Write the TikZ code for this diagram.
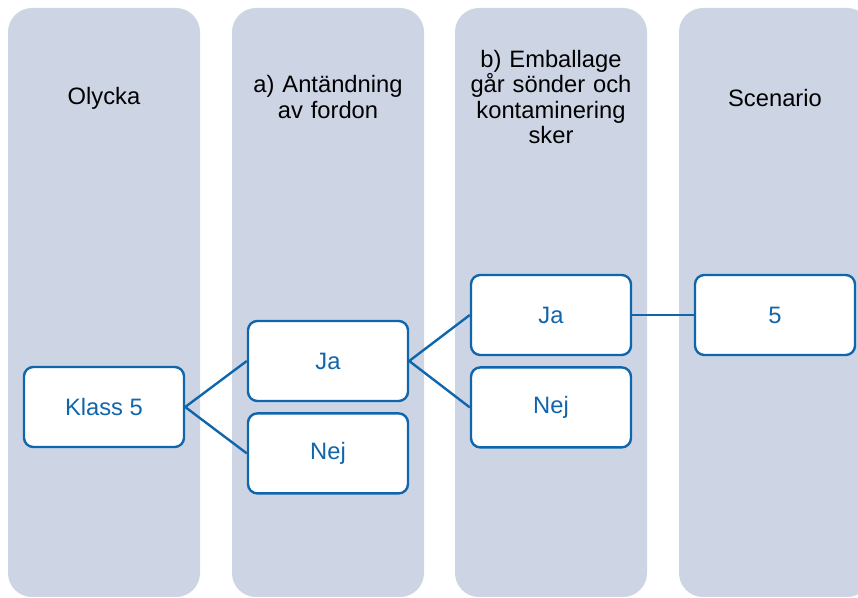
\documentclass[tikz,border=0pt]{standalone}
\usepackage{fontspec}
\setmainfont{Liberation Sans}
\usetikzlibrary{positioning}

\definecolor{colbg}{HTML}{CDD5E5}
\definecolor{boxblue}{HTML}{1066AC}

\begin{document}
\begin{tikzpicture}[x=0.75pt, y=-0.75pt, node distance={7.5pt},
  col/.style = {fill=colbg, draw=none, rounded corners=18pt},
  head/.style = {align=center, text width=150pt, font=\fontsize{17.8}{18.8}\selectfont},
  main/.style = {draw=boxblue, line width=1.8pt, fill=white, rounded corners=7pt,
    minimum width=120pt, minimum height=60pt, text=boxblue,
    font=\fontsize{17.8}{19}\selectfont},
  link/.style = {boxblue, line width=1.8pt}]
		\clip (0,0) rectangle (858,598);
		% columns
		\foreach \x in {8,232,455,679}
			\path[col] (\x,8) rectangle ++(192,589);
		% headings
		\node[head] (h1) at (104,98) {Olycka};
		\node[head] (h2) at (328,97) {a) Antändning\\av fordon};
		\node[head] (h3) at (551,97) {b) Emballage\\går sönder och\\kontaminering\\sker};
		\node[head] (h4) at (775,98) {Scenario};
		% boxes
		\node[main] (klass) at (104,407) {Klass 5};
		\node[main] (aja) at (328,361) {Ja};
		\node[main] (anej) [below=of aja] {Nej};
		\node[main] (bja) at (551,315) {Ja};
		\node[main] (bnej) [below=of bja] {Nej};
		\node[main] (scen) at (775,315) {5};
		% connectors
		\draw[link] (klass.east) -- (aja.west);
		\draw[link] (klass.east) -- (anej.west);
		\draw[link] (aja.east) -- (bja.west);
		\draw[link] (aja.east) -- (bnej.west);
		\draw[link] (bja.east) -- (scen.west);
\end{tikzpicture}
\end{document}
